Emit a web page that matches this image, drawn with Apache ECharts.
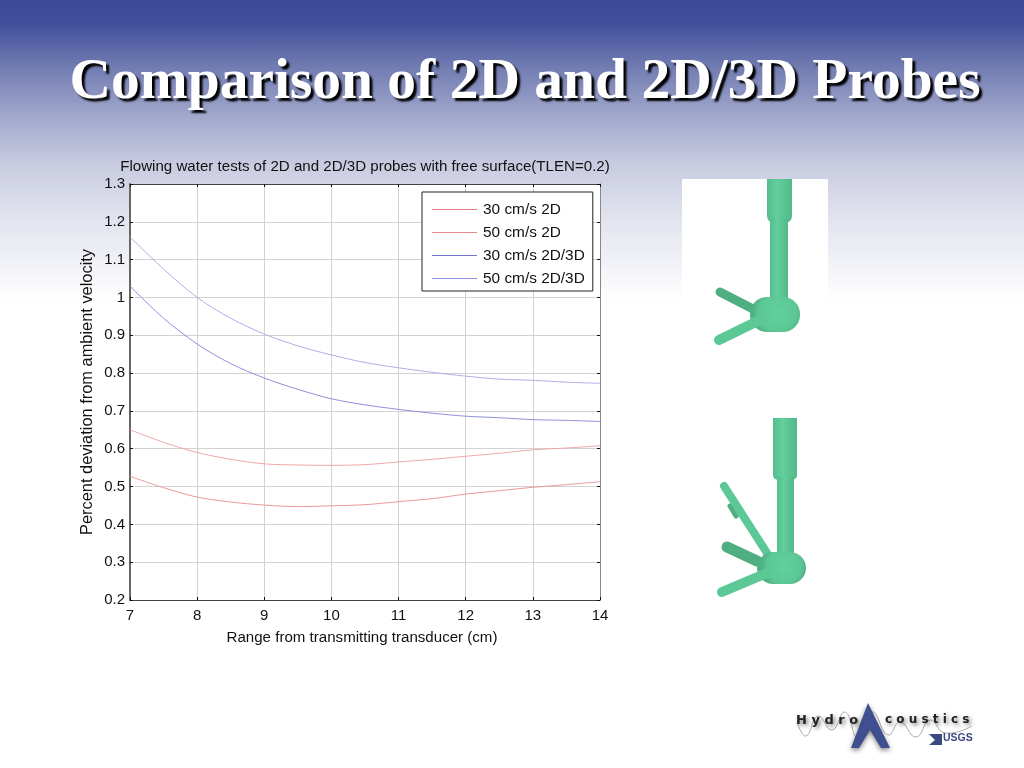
<!DOCTYPE html>
<html><head><meta charset="utf-8">
<style>
html,body{margin:0;padding:0;background:#fff}
#c{width:1024px;height:768px;background:linear-gradient(to bottom,#3c4b98 0,#3f4e9a 22px,#6f7ab0 65px,#a0a7cc 115px,#c9cce0 165px,#e4e6f0 225px,#fff 302px,#fff 100%)}
</style>
<script src="https://cdn.jsdelivr.net/npm/echarts@6/dist/echarts.min.js"></script>
</head><body><div id="c"></div>
<script>
const xValues=[7,7.5,8,8.5,9,9.5,10,10.5,11,11.5,12,12.5,13,13.5,14];
const s30_2D=[.527,.497,.472,.459,.451,.447,.449,.452,.46,.468,.48,.489,.498,.505,.513];
const s50_2D=[.65,.617,.59,.572,.56,.557,.556,.558,.565,.572,.58,.588,.597,.602,.608];
const s30_3D=[1.03,.945,.877,.825,.787,.757,.732,.716,.704,.694,.686,.682,.677,.675,.672];
const s50_3D=[1.16,1.075,1.0,.945,.903,.872,.848,.828,.814,.802,.792,.784,.781,.776,.773];
const names=['30 cm/s 2D','50 cm/s 2D','30 cm/s 2D/3D','50 cm/s 2D/3D'];
const colors=['#e99a9a','#efa8a8','#8f8fdc','#b0b0e6'];
const legendColors=['#e67c7c','#ea8888','#7474d6','#9090e0'];
const values=[s30_2D,s50_2D,s30_3D,s50_3D];
const font='"Liberation Sans",Arial,sans-serif';
const green='#5cc896',dark='#4fae82';
const chart=echarts.init(document.getElementById('c'),null,{renderer:'canvas'});
const G=echarts.graphic;
const rod=(x1,y1,x2,y2,w,c,z)=>({type:'line',z:z||20,shape:{x1,y1,x2,y2},style:{stroke:c,lineWidth:w,lineCap:'round'}});
const tube=()=>new G.LinearGradient(0,0,1,0,[{offset:0,color:'#55bd8d'},{offset:.4,color:'#62cf9c'},{offset:1,color:'#52b888'}]);
const bar=(x,y,w,h,r)=>({type:'rect',z:20,shape:{x,y,width:w,height:h,r:r||0},style:{fill:tube()}});
const ball=(x,y,w,h,r)=>({type:'rect',z:21,shape:{x,y,width:w,height:h,r},style:{fill:new G.RadialGradient(.55,.45,.7,[{offset:0,color:'#62cf9c'},{offset:.75,color:'#5cc896'},{offset:1,color:'#4fb284'}])}});
const logoShadow={textShadowColor:'rgba(0,0,0,.55)',textShadowBlur:4,textShadowOffsetX:2,textShadowOffsetY:2};
const graphics=[
 {type:'rect',z:1,shape:{x:682,y:179,width:146,height:123},style:{fill:'#fff'}},
 // upper probe
 bar(767,179,25,44,[0,0,7,7]),
 bar(770,218,18,86),
 rod(720,292,753,309,9,dark),
 ball(750,297,50,35,[17,17,17,17]),
 rod(719,340,762,319,10,green,22),
 // lower probe
 bar(773,418,24,62,[0,0,5,5]),
 bar(777,476,17,80),
 rod(724,486,767,553,8,green),
 rod(730,506,736,516,5,dark,19),
 rod(727,547,757,561,11,dark),
 ball(757,552,49,32,[16,16,16,16]),
 rod(722,592,767,573,10,green,22),
 // logo
 {type:'polyline',z:20,shape:{smooth:.5,points:[[797,722],[806,736],[818,716],[832,730],[845,712],[858,738],[872,712],[888,735],[900,722],[916,737],[930,720],[945,733],[972,726]]},style:{stroke:'#aaa',lineWidth:1,fill:'none'}},
 {type:'polygon',z:21,shape:{points:[[868,703],[851,748],[859,748],[870,730],[881,748],[890,748]]},style:{fill:'#3f4f8f',shadowColor:'rgba(0,0,0,.5)',shadowBlur:5,shadowOffsetY:2}},
 {type:'text',z:22,style:{x:796,y:714,text:'H y d r o',font:'bold 13px "DejaVu Sans"',fill:'#222',...logoShadow}},
 {type:'text',z:22,style:{x:885,y:714,text:'c o u s t i c s',font:'bold 12px "DejaVu Sans"',fill:'#222',...logoShadow}},
 {type:'text',z:22,style:{x:943,y:733,text:'USGS',font:'bold 10.5px "Liberation Sans"',fill:'#3a4a80'}},
 {type:'polygon',z:22,shape:{points:[[929,734],[942,734],[942,745],[929,745],[935,740]]},style:{fill:'#3a4a80'}}
];
const axisBase={axisLine:{onZero:false,lineStyle:{color:'#444',width:1}},axisTick:{inside:true,length:3,lineStyle:{color:'#111'}},splitLine:{show:false}};
chart.setOption({
 animation:false,backgroundColor:'transparent',
 title:[
  {text:'Comparison of 2D and 2D/3D Probes',left:520,top:49,textAlign:'center',textStyle:{fontFamily:'"Liberation Serif",serif',fontWeight:'bold',fontSize:57.5,color:'#fff',textShadowColor:'#000',textShadowBlur:2,textShadowOffsetX:3,textShadowOffsetY:3}},
  {text:'Flowing water tests of 2D and 2D/3D probes with free surface(TLEN=0.2)',left:360,top:154,textAlign:'center',textStyle:{fontFamily:font,fontWeight:'normal',fontSize:15.1,color:'#111'}}
 ],
 grid:{left:130,top:184,width:470,height:416,show:true,backgroundColor:'#fff',borderWidth:0,containLabel:false},
 legend:{show:true,data:names.map((n,i)=>({name:n,itemStyle:{color:legendColors[i]}})),orient:'vertical',left:422,top:192,padding:[10,8,5,10],itemGap:8,itemWidth:45,itemHeight:1,icon:'rect',backgroundColor:'#fff',borderColor:'#222',borderWidth:1,borderRadius:0,textStyle:{fontFamily:font,fontSize:15.4,color:'#111',padding:[0,0,0,1],lineHeight:15},z:10},
 xAxis:[
  Object.assign({},axisBase,{type:'value',position:'bottom',min:7,max:14,interval:1,name:'Range from transmitting transducer (cm)',nameLocation:'middle',nameGap:30,nameTextStyle:{fontFamily:font,fontSize:15.1,color:'#111',padding:[0,6,0,0]},axisLabel:{fontFamily:font,fontSize:15,color:'#111',margin:8},splitLine:{show:true,lineStyle:{color:'#d2d2d2',width:1}}}),
  Object.assign({},axisBase,{type:'value',position:'top',min:7,max:14,interval:1,axisLabel:{show:false}})
 ],
 yAxis:[
  Object.assign({},axisBase,{axisLine:{onZero:false,lineStyle:{color:'#666',width:2}},type:'value',position:'left',min:.2,max:1.3,interval:.1,name:'Percent deviation from ambient velocity',nameLocation:'middle',nameGap:35,nameTextStyle:{fontFamily:font,fontSize:16.4,color:'#111'},axisLabel:{fontFamily:font,fontSize:15,color:'#111',margin:5},splitLine:{show:true,lineStyle:{color:'#d2d2d2',width:1}}}),
  Object.assign({},axisBase,{axisLine:{onZero:false,lineStyle:{color:'#888',width:1}},type:'value',position:'right',min:.2,max:1.3,interval:.1,axisLabel:{show:false}})
 ],
 series:names.map((n,i)=>({name:n,type:'line',showSymbol:false,symbol:'none',smooth:.3,z:3,lineStyle:{color:colors[i],width:1},itemStyle:{color:colors[i]},data:xValues.map((x,j)=>[x,values[i][j]])})),
 graphic:graphics
});
</script></body></html>
